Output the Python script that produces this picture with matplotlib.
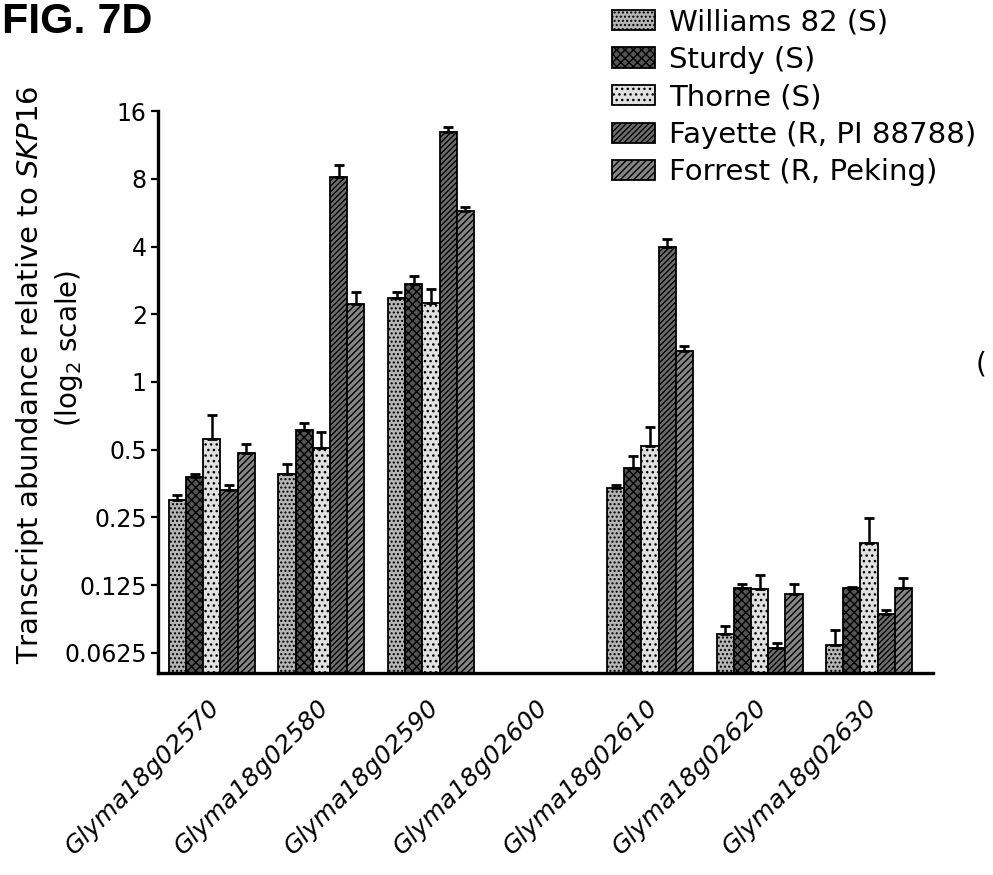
import numpy as np
import matplotlib
matplotlib.use("Agg")
from matplotlib import pyplot as plt
from matplotlib import transforms

genes = ["Glyma18g02570", "Glyma18g02580", "Glyma18g02590", "Glyma18g02600",
         "Glyma18g02610", "Glyma18g02620", "Glyma18g02630"]
cultivars = ["Williams 82 (S)", "Sturdy (S)", "Thorne (S)",
             "Fayette (R, PI 88788)", "Forrest (R, Peking)"]

# mean transcript abundance per cultivar (nan = not detected)
williams = [0.30, 0.39, 2.36, np.nan, 0.337, 0.076, 0.0675]
sturdy = [0.379, 0.61, 2.73, np.nan, 0.414, 0.121, 0.121]
thorne = [0.558, 0.51, 2.25, np.nan, 0.518, 0.12, 0.192]
fayette = [0.331, 8.15, 12.9, np.nan, 3.97, 0.066, 0.0934]
forrest = [0.483, 2.22, 5.73, np.nan, 1.37, 0.114, 0.122]

# top of error bar
williams_hi = [0.315, 0.43, 2.52, np.nan, 0.35, 0.082, 0.079]
sturdy_hi = [0.39, 0.66, 2.96, np.nan, 0.47, 0.127, 0.123]
thorne_hi = [0.714, 0.60, 2.6, np.nan, 0.63, 0.139, 0.248]
fayette_hi = [0.35, 9.2, 13.6, np.nan, 4.3, 0.069, 0.097]
forrest_hi = [0.53, 2.5, 6.0, np.nan, 1.45, 0.126, 0.134]

yticks = [0.0625, 0.125, 0.25, 0.5, 1, 2, 4, 8, 16]
ytick_labels = ["0.0625", "0.125", "0.25", "0.5", "1", "2", "4", "8", "16"]

means = [williams, sturdy, thorne, fayette, forrest]
highs = [williams_hi, sturdy_hi, thorne_hi, fayette_hi, forrest_hi]
fills = ["#b5b5b5", "#555555", "#e0e0e0", "#6e6e6e", "#858585"]
hatches = ["....", "xxxx", "...", "//////", "/////"]

plt.rcParams["hatch.linewidth"] = 1.0
plt.rcParams["font.family"] = "DejaVu Sans"

fig = plt.figure(figsize=(9.93, 8.75), dpi=100)
ax = fig.add_axes([0.159, 0.2309, 0.7806, 0.6422])

x = np.arange(len(genes))
w = 0.157
for i in range(5):
    m = np.array(means[i], dtype=float)
    hi = np.array(highs[i], dtype=float)
    pos = x + (i - 2) * w
    ax.bar(pos, m, width=w, color=fills[i], edgecolor="black", linewidth=1.3,
           hatch=hatches[i], label=cultivars[i], zorder=2)
    err = [np.zeros_like(m), hi - m]
    ax.errorbar(pos, m, yerr=err, fmt="none", ecolor="black", elinewidth=1.8,
                capsize=3.5, capthick=2, zorder=3)

ax.set_yscale("log", base=2)
ax.set_ylim(0.0509, 16)
ax.set_xlim(-0.493, 6.584)
ax.set_yticks(yticks)
ax.set_yticklabels(ytick_labels, fontsize=17)
ax.minorticks_off()
ax.tick_params(axis="y", length=5, width=1.6, pad=3)

ax.set_xticks(x)
ax.set_xticklabels(genes, rotation=45, ha="right", va="center",
                   rotation_mode="anchor", fontsize=18, fontstyle="italic")
ax.tick_params(axis="x", length=0, pad=22)
offset = transforms.ScaledTranslation(4 / 100, 0, fig.dpi_scale_trans)
for lab in ax.get_xticklabels():
    lab.set_transform(lab.get_transform() + offset)

for s in ["top", "right"]:
    ax.spines[s].set_visible(False)
for s in ["left", "bottom"]:
    ax.spines[s].set_linewidth(2.4)

fig.text(30 / 993, 1 - 375 / 875, r"Transcript abundance relative to $\it{SKP16}$",
         rotation=90, ha="center", va="center", fontsize=21)
fig.text(69 / 993, 1 - 348 / 875, r"(log$_2$ scale)",
         rotation=90, ha="center", va="center", fontsize=20)

fig.text(0.002, 1 - 33 / 875, "FIG. 7D", fontsize=31, fontweight="bold",
         family="Liberation Sans", ha="left", va="baseline")
fig.text(0.982, 1 - 365 / 875, "(", fontsize=20, ha="left", va="center")

fig.legend(loc="upper left", bbox_to_anchor=(612 / 993, 1 - 8 / 875),
           frameon=False, fontsize=21, handlelength=1.47, handleheight=0.69,
           handletextpad=0.5, labelspacing=0.33, borderpad=0, borderaxespad=0)

fig.savefig("out.png", dpi=100)
